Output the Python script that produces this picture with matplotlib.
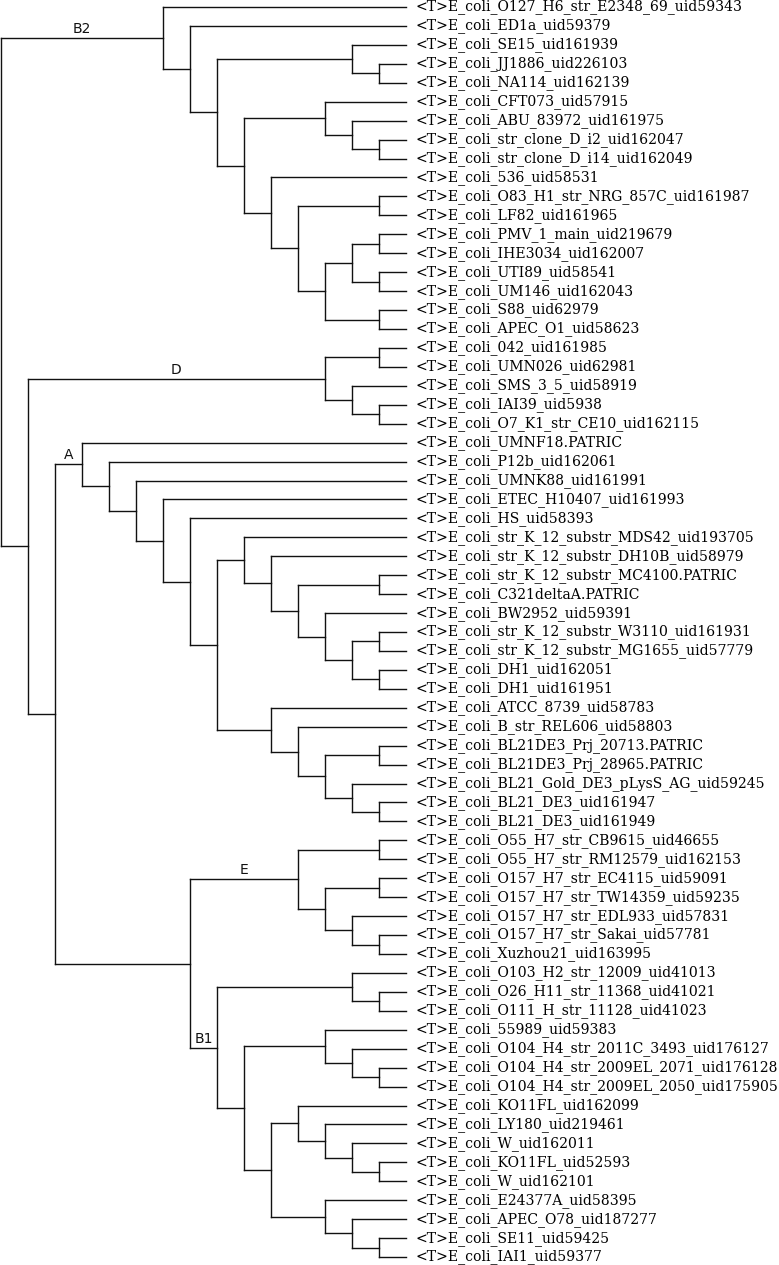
import matplotlib
matplotlib.use("Agg")
import matplotlib.pyplot as plt

# leaf labels, top to bottom
leaf_names = [
    "O127_H6_str_E2348_69_uid59343", "ED1a_uid59379", "SE15_uid161939",
    "JJ1886_uid226103", "NA114_uid162139", "CFT073_uid57915",
    "ABU_83972_uid161975", "str_clone_D_i2_uid162047", "str_clone_D_i14_uid162049",
    "536_uid58531", "O83_H1_str_NRG_857C_uid161987", "LF82_uid161965",
    "PMV_1_main_uid219679", "IHE3034_uid162007", "UTI89_uid58541",
    "UM146_uid162043", "S88_uid62979", "APEC_O1_uid58623",
    "042_uid161985", "UMN026_uid62981", "SMS_3_5_uid58919",
    "IAI39_uid5938", "O7_K1_str_CE10_uid162115",
    "UMNF18.PATRIC", "P12b_uid162061", "UMNK88_uid161991",
    "ETEC_H10407_uid161993", "HS_uid58393", "str_K_12_substr_MDS42_uid193705",
    "str_K_12_substr_DH10B_uid58979", "str_K_12_substr_MC4100.PATRIC",
    "C321deltaA.PATRIC", "BW2952_uid59391", "str_K_12_substr_W3110_uid161931",
    "str_K_12_substr_MG1655_uid57779", "DH1_uid162051", "DH1_uid161951",
    "ATCC_8739_uid58783", "B_str_REL606_uid58803", "BL21DE3_Prj_20713.PATRIC",
    "BL21DE3_Prj_28965.PATRIC", "BL21_Gold_DE3_pLysS_AG_uid59245",
    "BL21_DE3_uid161947", "BL21_DE3_uid161949",
    "O55_H7_str_CB9615_uid46655", "O55_H7_str_RM12579_uid162153",
    "O157_H7_str_EC4115_uid59091", "O157_H7_str_TW14359_uid59235",
    "O157_H7_str_EDL933_uid57831", "O157_H7_str_Sakai_uid57781",
    "Xuzhou21_uid163995",
    "O103_H2_str_12009_uid41013", "O26_H11_str_11368_uid41021",
    "O111_H_str_11128_uid41023", "55989_uid59383",
    "O104_H4_str_2011C_3493_uid176127", "O104_H4_str_2009EL_2071_uid176128",
    "O104_H4_str_2009EL_2050_uid175905", "KO11FL_uid162099", "LY180_uid219461",
    "W_uid162011", "KO11FL_uid52593", "W_uid162101", "E24377A_uid58395",
    "APEC_O78_uid187277", "SE11_uid59425", "IAI1_uid59377",
]

# topology as nested tuples of leaf indices
clade_b2 = (0, (1, ((2, (3, 4)), ((5, (6, (7, 8))),
            (9, ((10, 11), (((12, 13), (14, 15)), (16, 17))))))))
clade_d = ((18, 19), (20, (21, 22)))
k12 = (28, (29, ((30, 31), (32, ((33, 34), (35, 36))))))
b_strains = (37, (38, ((39, 40), (41, (42, 43)))))
clade_a = (23, (24, (25, (26, (27, (k12, b_strains))))))
clade_e = ((44, 45), ((46, 47), (48, (49, 50))))
clade_b1 = ((51, (52, 53)), ((54, (55, (56, 57))),
            ((58, (59, (60, (61, 62)))), (63, (64, (65, 66))))))
tree = (clade_b2, (clade_d, (clade_a, (clade_e, clade_b1))))

clade_labels = [("B2", clade_b2), ("D", clade_d), ("A", clade_a),
                ("E", clade_e), ("B1", clade_b1)]


def height(node):
    if isinstance(node, int):
        return 0
    return 1 + max(height(c) for c in node)


max_h = height(tree)
line_kw = dict(color="#111111", lw=1.0, solid_capstyle="projecting")
node_pos = {}


def draw(node, parent_x=None):
    x = max_h - height(node)
    if isinstance(node, int):
        y = node
    else:
        ys = [draw(c, x) for c in node]
        ax.plot([x, x], [ys[0], ys[-1]], **line_kw)
        y = (ys[0] + ys[-1]) / 2
    if parent_x is not None:
        ax.plot([parent_x, x], [y, y], **line_kw)
    node_pos[id(node)] = (parent_x, x, y)
    return y


fig = plt.figure(figsize=(7.79, 12.65), dpi=100)
ax = fig.add_axes([0, 0, 1, 1])
ax.set_xlim(-1 / 27, 778 / 27)
ax.set_ylim((1265 - 7) / 18.94, -7 / 18.94)
ax.axis("off")

draw(tree)

for i, name in enumerate(leaf_names):
    ax.annotate("<T>E_coli_" + name, (max_h, i), xytext=(6.5, 0),
                textcoords="offset points", va="center", ha="left",
                family="DejaVu Serif", fontsize=10.1, color="#000000")

for label, node in clade_labels:
    px, x, y = node_pos[id(node)]
    ax.annotate(label, ((px + x) / 2, y), xytext=(0, 1.5),
                textcoords="offset points", va="bottom", ha="center",
                family="DejaVu Sans", fontsize=10, color="#111111")

fig.savefig("out.png", dpi=100)
